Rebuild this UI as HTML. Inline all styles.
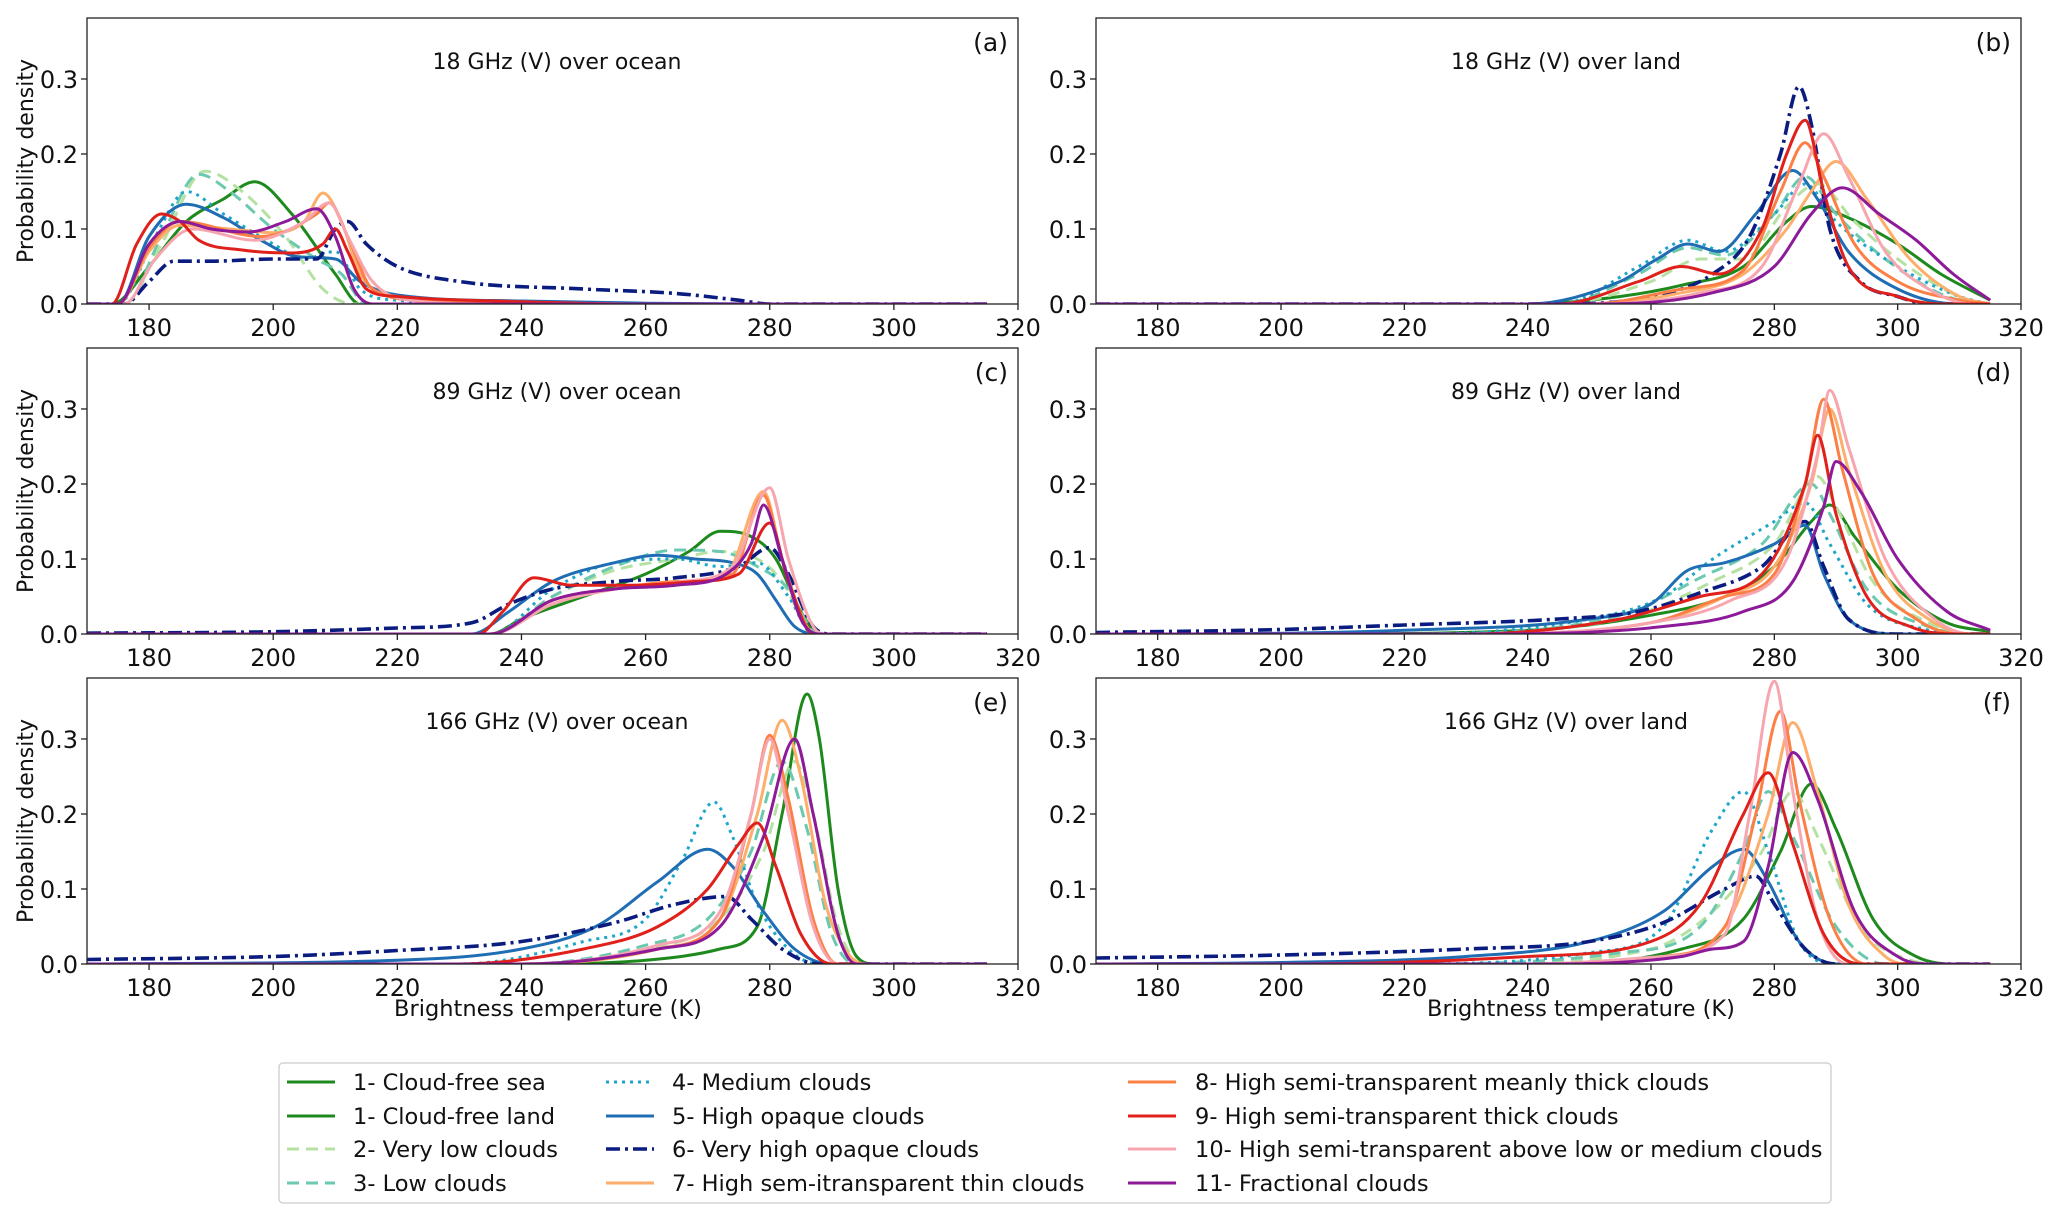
<!DOCTYPE html>
<html><head><meta charset="utf-8"><style>
html,body{margin:0;padding:0;background:#fff;}
svg{display:block;font-family:"DejaVu Sans","Liberation Sans",sans-serif;}
</style></head><body>
<svg id="fig" width="2067" height="1222" viewBox="0 0 2067 1222" xmlns="http://www.w3.org/2000/svg"></svg>
<script>
// ---------- data ----------
const xTicks = [180,200,220,240,260,280,300,320];
const yTicks = [0.0,0.1,0.2,0.3];
const yTickLabels = ["0.0","0.1","0.2","0.3"];
const panelTitles = ["18 GHz (V) over ocean","18 GHz (V) over land","89 GHz (V) over ocean","89 GHz (V) over land","166 GHz (V) over ocean","166 GHz (V) over land"];
const panelLetters = ["(a)","(b)","(c)","(d)","(e)","(f)"];
const seriesNames = ["1- Cloud-free sea","1- Cloud-free land","2- Very low clouds","3- Low clouds","4- Medium clouds","5- High opaque clouds","6- Very high opaque clouds","7- High sem-itransparent thin clouds","8- High semi-transparent meanly thick clouds","9- High semi-transparent thick clouds","10- High semi-transparent above low or medium clouds","11- Fractional clouds"];
const seriesColors = ["#1e8a1e","#1e8a1e","#b5e2a2","#6cc9b0","#1ea6c9","#1f6db3","#0b1c80","#fdae6b","#fc7f45","#e0201b","#f7a6b0","#8c1a99"];
const seriesDash = ["","","12,7","12,7","3,5","","14,5,3,5","","","","",""];

const pA_green=[[174,0],[180,0.05],[186,0.11],[192,0.14],[197,0.163],[203,0.12],[210,0.04],[214,0]];
const pA_vlow=[[176,0],[182,0.08],[189,0.177],[195,0.15],[202,0.09],[208,0.02],[213,0]];
const pA_low=[[176,0],[182,0.09],[188,0.173],[193,0.15],[200,0.1],[207,0.06],[211,0.04],[215,0]];
const pA_med=[[175,0],[181,0.09],[186,0.15],[192,0.12],[200,0.08],[205,0.06],[210,0.07],[214,0.02],[220,0.005],[240,0]];
const pA_hop=[[175,0],[180,0.09],[186,0.133],[192,0.115],[198,0.085],[204,0.063],[210,0.06],[214,0.03],[220,0.012],[240,0.004],[260,0.001],[280,0]];
const pA_vhop=[[176,0],[180,0.03],[184,0.057],[190,0.057],[200,0.06],[207,0.06],[210,0.1],[212,0.11],[215,0.08],[220,0.05],[230,0.03],[250,0.02],[265,0.014],[275,0.005],[280,0]];
const pA_s7=[[175,0],[180,0.07],[185,0.105],[193,0.1],[200,0.095],[205,0.11],[208,0.148],[211,0.11],[214,0.04],[220,0.01],[240,0.002],[260,0]];
const pA_s8=[[175,0],[180,0.075],[185,0.11],[198,0.09],[207,0.12],[209,0.135],[212,0.09],[216,0.02],[225,0.004],[245,0]];
const pA_s9=[[174,0],[178,0.08],[182,0.12],[185,0.11],[188,0.085],[195,0.072],[203,0.068],[208,0.08],[210,0.1],[212,0.07],[215,0.02],[220,0.01],[240,0.003],[260,0]];
const pA_s10=[[176,0],[181,0.06],[187,0.1],[197,0.085],[205,0.11],[209,0.135],[212,0.09],[216,0.03],[222,0.005],[235,0]];
const pA_s11=[[175,0],[180,0.08],[185,0.11],[190,0.1],[196,0.096],[202,0.11],[207,0.127],[210,0.09],[213,0.02],[216,0]];

const pB_green=[[240,0],[255,0.01],[265,0.025],[275,0.05],[282,0.11],[286,0.13],[292,0.115],[300,0.08],[307,0.04],[315,0.005]];
const pB_vlow=[[245,0],[260,0.03],[268,0.06],[275,0.06],[282,0.13],[287,0.16],[293,0.11],[300,0.06],[310,0.01],[315,0]];
const pB_low=[[245,0],[258,0.04],[266,0.075],[272,0.065],[280,0.12],[285,0.17],[290,0.12],[298,0.06],[308,0.01],[315,0]];
const pB_med=[[245,0],[258,0.05],[266,0.085],[272,0.07],[280,0.12],[285,0.16],[290,0.11],[300,0.05],[310,0.01],[315,0]];
const pB_hop=[[240,0],[255,0.03],[261,0.06],[266,0.08],[271,0.07],[277,0.12],[283,0.178],[287,0.14],[292,0.07],[300,0.02],[310,0]];
const pB_vhop=[[245,0],[260,0.01],[270,0.04],[276,0.09],[281,0.2],[284,0.29],[286,0.24],[289,0.1],[294,0.03],[300,0.01],[305,0]];
const pB_s7=[[250,0],[265,0.015],[275,0.04],[282,0.1],[286,0.15],[290,0.19],[295,0.14],[302,0.06],[310,0.01],[315,0]];
const pB_s8=[[250,0],[265,0.02],[275,0.045],[281,0.15],[285,0.215],[288,0.17],[293,0.08],[300,0.03],[310,0.005],[315,0]];
const pB_s9=[[245,0],[258,0.03],[265,0.05],[271,0.04],[278,0.1],[282,0.2],[285,0.245],[288,0.15],[292,0.05],[300,0.01],[308,0]];
const pB_s10=[[250,0],[268,0.015],[278,0.05],[284,0.16],[288,0.227],[292,0.17],[298,0.07],[305,0.02],[312,0]];
const pB_s11=[[250,0],[270,0.015],[280,0.05],[286,0.12],[291,0.155],[297,0.12],[303,0.085],[309,0.04],[315,0.005]];

const pC_green=[[235,0],[240,0.02],[250,0.05],[260,0.08],[267,0.11],[272,0.137],[277,0.13],[281,0.1],[285,0.03],[288,0]];
const pC_vlow=[[235,0],[245,0.05],[255,0.085],[265,0.1],[272,0.11],[278,0.1],[282,0.07],[286,0.01],[289,0]];
const pC_low=[[235,0],[245,0.05],[255,0.09],[265,0.112],[272,0.11],[278,0.09],[283,0.06],[287,0.005],[290,0]];
const pC_med=[[235,0],[245,0.06],[255,0.095],[265,0.1],[272,0.09],[278,0.095],[283,0.05],[287,0]];
const pC_hop=[[232,0],[238,0.03],[245,0.07],[255,0.095],[262,0.105],[268,0.1],[274,0.095],[278,0.08],[281,0.045],[284,0.01],[288,0]];
const pC_vhop=[[170,0.001],[200,0.003],[220,0.008],[232,0.015],[238,0.04],[245,0.06],[255,0.07],[265,0.075],[275,0.09],[280,0.115],[283,0.08],[287,0.01],[290,0]];
const pC_s7=[[235,0],[245,0.04],[255,0.06],[265,0.07],[273,0.08],[279,0.19],[282,0.1],[285,0.02],[288,0]];
const pC_s8=[[235,0],[245,0.045],[255,0.06],[265,0.07],[274,0.08],[279,0.185],[282,0.1],[286,0.01],[288,0]];
const pC_s9=[[233,0],[237,0.03],[242,0.075],[248,0.065],[258,0.065],[268,0.07],[275,0.08],[280,0.148],[283,0.07],[287,0]];
const pC_s10=[[235,0],[245,0.04],[255,0.06],[266,0.07],[274,0.09],[280,0.195],[283,0.1],[287,0.01],[289,0]];
const pC_s11=[[235,0],[245,0.045],[255,0.06],[265,0.065],[273,0.08],[277,0.12],[279,0.172],[282,0.1],[285,0.02],[288,0]];

const pD_green=[[200,0],[240,0.005],[260,0.025],[272,0.05],[280,0.09],[286,0.15],[289,0.172],[293,0.13],[300,0.06],[308,0.015],[315,0.003]];
const pD_vlow=[[220,0],[255,0.02],[270,0.07],[280,0.12],[287,0.21],[290,0.17],[296,0.07],[305,0.015],[312,0]];
const pD_low=[[220,0],[255,0.025],[268,0.075],[278,0.12],[286,0.2],[289,0.16],[295,0.06],[305,0.01],[312,0]];
const pD_med=[[220,0],[250,0.02],[262,0.05],[270,0.1],[280,0.15],[285,0.175],[289,0.12],[295,0.04],[305,0.005],[310,0]];
const pD_hop=[[180,0],[220,0.005],[250,0.02],[260,0.04],[266,0.085],[272,0.095],[280,0.12],[285,0.145],[288,0.08],[292,0.02],[300,0]];
const pD_vhop=[[170,0.002],[200,0.006],[220,0.012],[245,0.02],[258,0.03],[268,0.055],[278,0.09],[285,0.15],[288,0.09],[292,0.02],[300,0]];
const pD_s7=[[230,0],[260,0.015],[272,0.05],[280,0.09],[286,0.2],[289,0.3],[292,0.22],[298,0.08],[305,0.02],[312,0]];
const pD_s8=[[230,0],[260,0.015],[272,0.05],[280,0.08],[285,0.2],[288,0.313],[291,0.22],[296,0.08],[303,0.02],[310,0]];
const pD_s9=[[230,0],[255,0.02],[268,0.05],[278,0.08],[285,0.2],[287,0.265],[290,0.16],[295,0.05],[302,0.01],[310,0]];
const pD_s10=[[230,0],[260,0.015],[273,0.045],[282,0.1],[287,0.24],[289,0.325],[292,0.25],[298,0.1],[306,0.02],[312,0]];
const pD_s11=[[230,0],[262,0.01],[275,0.03],[283,0.07],[288,0.17],[290,0.23],[294,0.19],[300,0.1],[308,0.03],[315,0.005]];

const pE_green=[[240,0],[260,0.005],[272,0.02],[278,0.05],[282,0.2],[286,0.36],[288,0.3],[291,0.1],[294,0.01],[297,0]];
const pE_vlow=[[240,0],[260,0.02],[272,0.06],[279,0.15],[284,0.27],[287,0.2],[291,0.05],[295,0]];
const pE_low=[[240,0],[260,0.025],[270,0.06],[277,0.15],[282,0.27],[286,0.18],[290,0.04],[294,0]];
const pE_med=[[230,0],[250,0.03],[260,0.06],[266,0.14],[271,0.216],[274,0.17],[278,0.08],[283,0.02],[288,0]];
const pE_hop=[[170,0],[220,0.005],[240,0.02],[252,0.05],[262,0.11],[270,0.153],[274,0.13],[279,0.07],[284,0.02],[290,0]];
const pE_vhop=[[170,0.006],[200,0.01],[220,0.018],[240,0.03],[255,0.055],[265,0.08],[273,0.09],[277,0.06],[282,0.02],[288,0]];
const pE_s7=[[240,0],[262,0.02],[272,0.06],[278,0.2],[282,0.325],[285,0.25],[289,0.08],[293,0.01],[296,0]];
const pE_s8=[[240,0],[262,0.02],[272,0.06],[277,0.2],[280,0.305],[283,0.22],[287,0.06],[291,0]];
const pE_s9=[[230,0],[250,0.02],[262,0.05],[270,0.1],[275,0.16],[278,0.188],[281,0.13],[285,0.04],[290,0]];
const pE_s10=[[240,0],[262,0.025],[272,0.07],[277,0.2],[280,0.3],[283,0.2],[287,0.05],[291,0]];
const pE_s11=[[240,0],[262,0.02],[272,0.05],[279,0.17],[284,0.3],[287,0.2],[291,0.04],[294,0]];

const pF_green=[[240,0],[265,0.02],[275,0.06],[281,0.15],[286,0.24],[290,0.18],[296,0.06],[303,0.01],[310,0]];
const pF_vlow=[[230,0],[260,0.02],[270,0.07],[278,0.15],[283,0.23],[287,0.17],[294,0.05],[302,0.005],[308,0]];
const pF_low=[[220,0],[255,0.015],[268,0.05],[275,0.15],[279,0.23],[283,0.17],[290,0.05],[298,0]];
const pF_med=[[220,0],[250,0.015],[262,0.05],[270,0.18],[275,0.23],[279,0.15],[284,0.03],[290,0]];
const pF_hop=[[170,0],[200,0.002],[230,0.01],[250,0.03],[262,0.07],[270,0.13],[275,0.153],[279,0.11],[284,0.03],[290,0]];
const pF_vhop=[[170,0.008],[200,0.012],[230,0.02],[250,0.03],[262,0.055],[272,0.1],[277,0.117],[280,0.08],[285,0.02],[290,0]];
const pF_s7=[[240,0],[262,0.01],[272,0.05],[279,0.2],[283,0.322],[287,0.23],[292,0.08],[298,0.01],[302,0]];
const pF_s8=[[240,0],[262,0.01],[272,0.05],[277,0.2],[281,0.337],[284,0.22],[289,0.06],[295,0]];
const pF_s9=[[200,0],[240,0.01],[260,0.03],[268,0.08],[275,0.2],[279,0.255],[283,0.16],[288,0.04],[294,0]];
const pF_s10=[[240,0],[262,0.01],[272,0.04],[276,0.2],[280,0.377],[283,0.23],[287,0.06],[292,0]];
const pF_s11=[[240,0],[265,0.01],[270,0.02],[275,0.03],[279,0.13],[283,0.282],[287,0.22],[293,0.07],[300,0.01],[305,0]];

const panelSeries = [
  [[0,pA_green],[2,pA_vlow],[3,pA_low],[4,pA_med],[5,pA_hop],[6,pA_vhop],[7,pA_s7],[8,pA_s8],[10,pA_s10],[9,pA_s9],[11,pA_s11]],
  [[1,pB_green],[2,pB_vlow],[3,pB_low],[4,pB_med],[5,pB_hop],[6,pB_vhop],[7,pB_s7],[8,pB_s8],[10,pB_s10],[9,pB_s9],[11,pB_s11]],
  [[0,pC_green],[2,pC_vlow],[3,pC_low],[4,pC_med],[5,pC_hop],[6,pC_vhop],[7,pC_s7],[8,pC_s8],[10,pC_s10],[9,pC_s9],[11,pC_s11]],
  [[1,pD_green],[2,pD_vlow],[3,pD_low],[4,pD_med],[5,pD_hop],[6,pD_vhop],[7,pD_s7],[8,pD_s8],[10,pD_s10],[9,pD_s9],[11,pD_s11]],
  [[0,pE_green],[2,pE_vlow],[3,pE_low],[4,pE_med],[5,pE_hop],[6,pE_vhop],[7,pE_s7],[8,pE_s8],[10,pE_s10],[9,pE_s9],[11,pE_s11]],
  [[1,pF_green],[2,pF_vlow],[3,pF_low],[4,pF_med],[5,pF_hop],[6,pF_vhop],[7,pF_s7],[8,pF_s8],[10,pF_s10],[9,pF_s9],[11,pF_s11]]
];

// ---------- drawing ----------
const NS="http://www.w3.org/2000/svg";
const svg=document.getElementById('fig');
function mk(tag,attrs,parent){const e=document.createElementNS(NS,tag);for(const k in attrs)e.setAttribute(k,attrs[k]);(parent||svg).appendChild(e);return e;}
const X0=170,X1=320,YMAX=0.3813;
const cols=[[87,1018],[1096,2021]];
const rows=[[18,304],[348,634],[678,964]];

function monotone(pts){
  const n=pts.length, xs=pts.map(p=>p[0]), ys=pts.map(p=>p[1]);
  const d=[],m=[];
  for(let i=0;i<n-1;i++)d.push((ys[i+1]-ys[i])/(xs[i+1]-xs[i]));
  m[0]=d[0];m[n-1]=d[n-2];
  for(let i=1;i<n-1;i++){m[i]=(d[i-1]*d[i]<=0)?0:(d[i-1]+d[i])/2;}
  for(let i=0;i<n-1;i++){if(d[i]===0){m[i]=0;m[i+1]=0;continue;}const a=m[i]/d[i],b=m[i+1]/d[i],s=a*a+b*b;if(s>9){const t=3/Math.sqrt(s);m[i]=t*a*d[i];m[i+1]=t*b*d[i];}}
  return {xs,ys,m};
}

for(let p=0;p<6;p++){
  const [L,R]=cols[p%2];const [T,B]=rows[Math.floor(p/2)];
  const sx=v=>L+(v-X0)/(X1-X0)*(R-L);
  const sy=v=>B-v/YMAX*(B-T);
  const g=mk('g',{});
  
  
  const clipId='clip'+p;
  const cp=mk('clipPath',{id:clipId},g);mk('rect',{x:L,y:T,width:R-L,height:B-T},cp);
  const sg=mk('g',{'clip-path':'url(#'+clipId+')'},g);
  panelSeries[p].forEach(([si,raw])=>{
    let pts=raw.slice();
    if(pts[0][0]>X0)pts.unshift([X0,0]);
    if(pts[pts.length-1][0]<315)pts.push([315,0]);
    const {xs,ys,m}=monotone(pts);
    let dstr='M'+sx(xs[0]).toFixed(1)+','+sy(ys[0]).toFixed(1);
    for(let i=0;i<xs.length-1;i++){const h=xs[i+1]-xs[i];
      dstr+=' C'+sx(xs[i]+h/3).toFixed(1)+','+sy(ys[i]+m[i]*h/3).toFixed(1)+' '+sx(xs[i+1]-h/3).toFixed(1)+','+sy(ys[i+1]-m[i+1]*h/3).toFixed(1)+' '+sx(xs[i+1]).toFixed(1)+','+sy(ys[i+1]).toFixed(1);}
    const path=mk('path',{d:dstr,fill:'none',stroke:seriesColors[si],'stroke-width':si===6?3.6:3,'stroke-linejoin':'round'},sg);
    if(seriesDash[si])path.setAttribute('stroke-dasharray',seriesDash[si]);
    
    
  });
  const frame=mk('rect',{x:L,y:T,width:R-L,height:B-T,fill:'none',stroke:'#222','stroke-width':1.3},g);
  
  
  xTicks.forEach(t=>{
    mk('line',{x1:sx(t),x2:sx(t),y1:B,y2:B+6,stroke:'#222','stroke-width':1.3},g);
    const tx=mk('text',{x:sx(t),y:B+32,'font-size':24,'text-anchor':'middle',fill:'#111'},g);tx.textContent=t;
    
    
  });
  yTicks.forEach((t,i)=>{
    mk('line',{x1:L-6,x2:L,y1:sy(t),y2:sy(t),stroke:'#222','stroke-width':1.3},g);
    const ty=mk('text',{x:L-9,y:sy(t)+9,'font-size':24,'text-anchor':'end',fill:'#111'},g);ty.textContent=yTickLabels[i];
    
    
  });
  const title=mk('text',{x:(p%2?1566:557),y:T+51,'font-size':22,'text-anchor':'middle',fill:'#111'},g);title.textContent=panelTitles[p];
  
  
  const lt=mk('text',{x:R-10,y:T+33,'font-size':25,'text-anchor':'end',fill:'#111'},g);lt.textContent=panelLetters[p];
  
  
  if(p%2===0){
    const cy=(T+B)/2;
    const yl=mk('text',{x:0,y:0,'font-size':22,'text-anchor':'middle',fill:'#111',transform:'translate(33,'+cy+') rotate(-90)'},g);yl.textContent='Probability density';
    
    
  }
  if(p>=4){
    const xl=mk('text',{x:(p%2?1581:548),y:B+52,'font-size':22.5,'text-anchor':'middle',fill:'#111'},g);xl.textContent='Brightness temperature (K)';
    
    
  }
}

// legend
const lg=mk('g',{});


mk('rect',{x:279,y:1063,width:1552,height:140,rx:4,fill:'#fff',stroke:'#ccc','stroke-width':1.3},lg);
const legCols=[[287,353],[606,672],[1128,1195]];
const legRows=[1082,1116,1149,1183];
const legendOrder=[[0,1,2,3],[4,5,6,7],[8,9,10,11]];
legendOrder.forEach((col,c)=>col.forEach((si,r)=>{
  const e=mk('g',{},lg);
  
  
  const y=legRows[r];
  const ln=mk('line',{x1:legCols[c][0],x2:legCols[c][0]+48,y1:y,y2:y,stroke:seriesColors[si],'stroke-width':si===6?3.6:3},e);
  if(seriesDash[si])ln.setAttribute('stroke-dasharray',seriesDash[si]);
  const t=mk('text',{x:legCols[c][1],y:y+8,'font-size':22.5,fill:'#111'},e);t.textContent=seriesNames[si];
}));
</script>
</body></html>
